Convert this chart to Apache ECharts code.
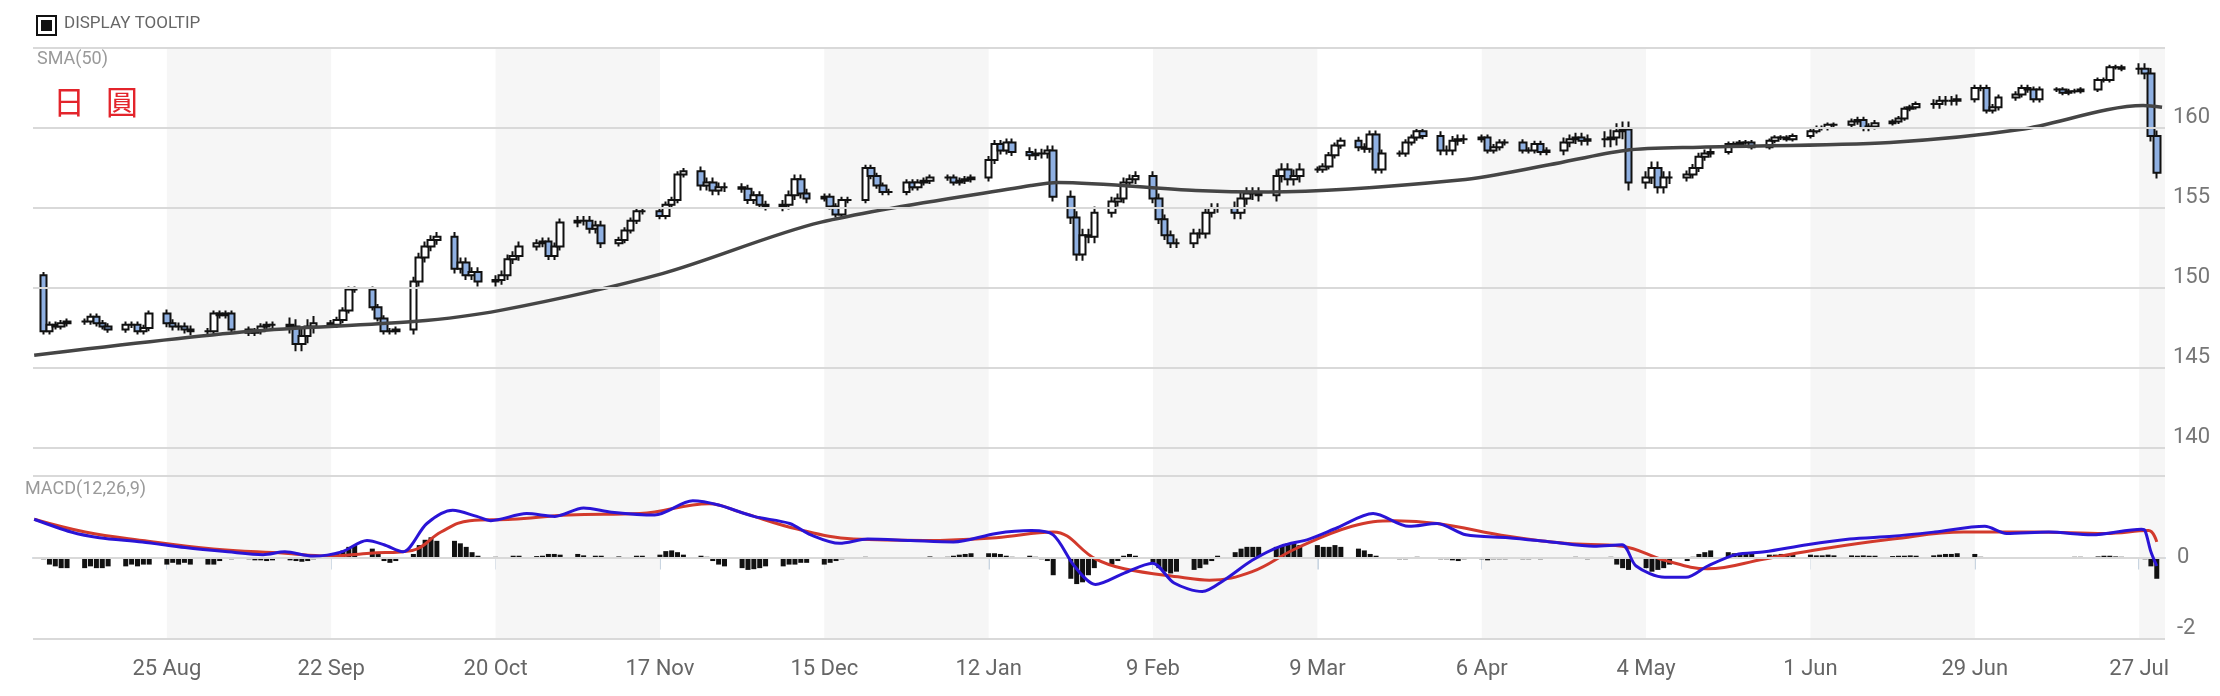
<!DOCTYPE html>
<html>
<head>
<meta charset="utf-8">
<script src="https://cdn.jsdelivr.net/npm/echarts@6/dist/echarts.min.js"></script>
<style>
  html, body {margin: 0; padding: 0; background: #fff;}
  #chart {width: 2220px; height: 696px;}
</style>
</head>
<body>
<div id="chart"></div>
<script>
// x values are calendar days counted from 2 Aug; candles are trading days
var firstOpen = 150.8;
var closes = [
  147.3, 147.7, 147.6, 147.8, 147.9,
  147.9, 148.2, 147.8, 147.6, 147.4,
  147.7, 147.7, 147.3, 147.5, 148.4,
  147.8, 147.6, 147.6, 147.4, 147.3,
  147.3, 148.4, 148.3, 148.4, 147.4,
  147.2, 147.3, 147.6, 147.7, 147.7,
  147.6, 146.5, 147.0, 147.6, 147.8,
  147.7, 148.0, 148.6, 149.9, 149.9,
  148.8, 148.1, 147.3, 147.3, 147.4,
  150.4, 151.9, 152.6, 153.0, 153.2,
  151.2, 151.6, 150.8, 151.0, 150.4,
  150.5, 150.8, 151.8, 152.0, 152.6,
  152.8, 152.9, 152.0, 152.6, 154.1,
  154.2, 154.2, 153.7, 153.9, 152.8,
  153.0, 153.6, 154.2, 154.8, 154.8,
  154.5, 155.2, 155.5, 157.1, 157.3,
  156.4, 156.6, 156.1, 156.3, 156.3,
  156.2, 155.5, 155.8, 155.2, 155.1,
  155.2, 155.8, 156.8, 155.9, 155.6,
  155.7, 155.1, 154.6, 155.5, 155.5,
  157.5, 157.0, 156.4, 156.0, 156.0,
  156.6, 156.3, 156.6, 156.7, 156.9,
  156.9, 156.6, 156.7, 156.8, 156.9,
  158.0, 159.0, 158.6, 159.1, 158.5,
  158.3, 158.4, 158.4, 158.6, 155.7,
  154.4, 152.1, 153.3, 153.2, 154.7,
  155.4, 155.6, 156.6, 156.8, 157.0,
  155.6, 154.3, 153.3, 152.8, 152.8,
  153.4, 153.4, 154.7, 155.0, 155.0,
  154.7, 155.6, 155.9, 155.9, 155.8,
  157.0, 157.4, 156.8, 157.0, 157.4,
  157.4, 157.6, 158.3, 158.9, 159.2,
  158.8, 158.7, 159.6, 157.4, 158.4,
  158.4, 159.1, 159.4, 159.8, 159.5,
  158.6, 158.6, 159.2, 159.3, 159.3,
  159.4, 158.6, 158.8, 159.1, 159.1,
  158.6, 158.6, 159.0, 158.5, 158.6,
  159.1, 159.3, 159.4, 159.2, 159.3,
  159.3, 159.4, 159.8, 159.9, 156.6,
  156.9, 157.5, 156.3, 156.9, 156.9,
  157.1, 157.5, 158.2, 158.4, 158.5,
  159.0, 159.0, 159.1, 159.1, 158.8,
  159.2, 159.4, 159.4, 159.3, 159.5,
  159.8, 160.0, 160.0, 160.2, 160.2,
  160.4, 160.5, 160.0, 160.1, 160.3,
  160.4, 160.6, 161.2, 161.3, 161.5,
  161.5, 161.7, 161.7, 161.7, 161.8,
  162.5, 162.5, 161.1, 161.3, 161.9,
  162.1, 162.5, 162.4, 161.8, 162.4,
  162.4, 162.2, 162.3, 162.3, 162.4,
  163.0, 163.0, 163.8, 163.8, 163.7,
  163.7, 163.4, 159.5, 157.2
];
// typical wick length per week
var weekWick = [0.2, 0.2, 0.2, 0.25, 0.2, 0.2, 0.45, 0.2, 0.2, 0.3,
  0.3, 0.3, 0.25, 0.3, 0.2, 0.2, 0.3, 0.25, 0.3, 0.2,
  0.2, 0.2, 0.2, 0.25, 0.3, 0.4, 0.3, 0.3, 0.3, 0.4,
  0.4, 0.2, 0.25, 0.2, 0.3, 0.2, 0.2, 0.3, 0.5, 0.4,
  0.25, 0.15, 0.15, 0.15, 0.2, 0.15, 0.3, 0.2, 0.2, 0.15,
  0.15, 0.35];

var smaX = [0.4, 37.2, 65, 79.8, 107.4, 134.3, 170.2, 174.8, 198.3, 210.6, 243.3, 258.5, 271.4, 284.2, 316.6, 338.7, 359.7, 362.9];
var smaV = [145.8, 147.3, 147.9, 148.6, 150.9, 154.1, 156.4, 156.6, 156.1, 156.0, 156.75, 157.7, 158.6, 158.8, 159.1, 159.9, 161.4, 161.3];

var macdX = [0.4, 6.7, 11.5, 18.8, 26.1, 33.4, 39.4, 43.1, 47.9, 52.8, 57.1, 60, 63.2, 67.3, 71.7, 75.8, 78.2, 84.3, 89.1, 94, 98.8, 106.1, 112.6, 117, 123, 129.1, 132.7, 137.6, 142.4, 149.7, 157, 164.3, 170.3, 174, 177.6, 181.2, 186.1, 190.9, 194.6, 199.4, 203.1, 207.9, 212.8, 217.6, 222.4, 228.5, 234.6, 239.4, 244.3, 251.5, 258.8, 266.1, 270.9, 273.3, 278.2, 281.8, 285.5, 290.3, 295.2, 302.4, 309.7, 317, 324.2, 332.7, 336.4, 343.6, 350.9, 359.4, 360, 361, 362];
var macdV = [1.08, 0.72, 0.56, 0.44, 0.28, 0.16, 0.08, 0.16, 0.04, 0.16, 0.48, 0.36, 0.16, 0.96, 1.33, 1.16, 1.04, 1.24, 1.16, 1.4, 1.28, 1.2, 1.6, 1.48, 1.16, 0.96, 0.64, 0.4, 0.52, 0.48, 0.44, 0.68, 0.76, 0.64, -0.24, -0.76, -0.44, -0.16, -0.72, -0.96, -0.64, -0.08, 0.32, 0.52, 0.84, 1.24, 0.88, 0.96, 0.64, 0.56, 0.44, 0.32, 0.36, -0.24, -0.56, -0.56, -0.24, 0.08, 0.16, 0.36, 0.52, 0.6, 0.72, 0.88, 0.68, 0.72, 0.64, 0.8, 0.76, 0.16, -0.24];
var sigX = [0.4, 9.1, 18.8, 30.9, 43.1, 50.3, 57.6, 64.8, 69.7, 74.6, 81.8, 91.5, 103.6, 115.4, 120.7, 130.4, 140, 152.1, 164.3, 174, 181.2, 186.1, 195.8, 200.6, 207.9, 215.2, 224.9, 232.2, 239.4, 251.5, 261.2, 270.9, 278.2, 285.5, 295.2, 304.9, 317, 329.1, 341.2, 353.3, 360.6, 362];
var sigV = [1.08, 0.72, 0.48, 0.24, 0.12, 0.04, 0.12, 0.2, 0.72, 1.04, 1.08, 1.2, 1.24, 1.52, 1.28, 0.8, 0.52, 0.48, 0.56, 0.72, -0.04, -0.32, -0.56, -0.64, -0.4, 0.24, 0.88, 1.04, 0.96, 0.6, 0.4, 0.32, -0.08, -0.32, -0.04, 0.24, 0.52, 0.72, 0.72, 0.68, 0.76, 0.44];

var hist = [
  -0.05, -0.2, -0.25, -0.3, -0.3,   -0.3, -0.25, -0.3, -0.3, -0.25,
  -0.25, -0.2, -0.25, -0.2, -0.2,   -0.2, -0.15, -0.2, -0.15, -0.2,
  -0.2, -0.2, -0.1, 0, -0.05,       -0.05, -0.08, -0.08, -0.1, -0.08,
  -0.08, -0.1, -0.12, -0.1, -0.05,  0.05, 0.1, 0.2, 0.3, 0.35,
  0.25, 0.1, -0.1, -0.15, -0.1,     0.1, 0.35, 0.5, 0.57, 0.47,
  0.47, 0.4, 0.3, 0.15, 0.05,       0.02, -0.03, 0, 0.05, 0.05,
  0.04, 0.05, 0.1, 0.1, 0.08,       0.1, 0.06, 0, 0.05, 0.05,
  0.03, 0, 0, 0.05, 0.05,           0.08, 0.18, 0.2, 0.15, 0.08,
  0.05, 0.02, -0.1, -0.2, -0.25,    -0.3, -0.35, -0.33, -0.3, -0.25,
  -0.25, -0.2, -0.2, -0.15, -0.15,  -0.2, -0.15, -0.1, -0.05, 0,
  0.02, 0, -0.02, 0, 0,             0, -0.02, 0, 0, 0.03,
  0.02, 0.05, 0.08, 0.1, 0.12,      0.12, 0.12, 0.1, 0.05, 0.02,
  0.05, 0.02, -0.05, -0.1, -0.5,    -0.6, -0.75, -0.7, -0.5, -0.3,
  -0.2, -0.1, 0.05, 0.1, 0.05,      -0.15, -0.3, -0.4, -0.45, -0.4,
  -0.35, -0.3, -0.2, -0.1, 0.05,    0.15, 0.25, 0.3, 0.3, 0.3,
  0.3, 0.35, 0.4, 0.4, 0.35,        0.35, 0.3, 0.3, 0.35, 0.3,
  0.25, 0.2, 0.1, 0.05, -0.02,      -0.05, -0.05, 0, 0.02, 0,
  -0.05, -0.05, -0.08, -0.1, -0.05, -0.05, -0.08, -0.05, -0.05, -0.05,
  -0.05, -0.05, -0.03, -0.05, -0.03, -0.02, 0, 0.02, 0, -0.05,
  0, 0.02, -0.2, -0.3, -0.35,       -0.3, -0.4, -0.35, -0.3, -0.2,
  -0.1, 0.02, 0.1, 0.15, 0.2,       0.15, 0.12, 0.1, 0.1, 0.1,
  0.08, 0.08, 0.1, 0.1, 0.08,       0.08, 0.06, 0.06, 0.08, 0.06,
  0.06, 0.05, 0.06, 0.05, 0.05,     0.04, 0.05, 0.05, 0.06, 0.05,
  0.06, 0.08, 0.1, 0.1, 0.12,       0.1, 0.02, -0.03, -0.04, -0.02,
  -0.02, -0.02, 0, 0, -0.02,        -0.02, 0, 0, 0.02, 0.02,
  0.03, 0.05, 0.05, 0.03, 0.02,     0, -0.05, -0.25, -0.6
];

var tickDays = [23, 51, 79, 107, 135, 163, 191, 219, 247, 275, 303, 331, 359];
var tickLabels = ['25 Aug', '22 Sep', '20 Oct', '17 Nov', '15 Dec', '12 Jan', '9 Feb', '9 Mar', '6 Apr', '4 May', '1 Jun', '29 Jun', '27 Jul'];
var priceLevels = [140, 145, 150, 155, 160, 165];

// build series data
function dayOf(k) {
  return 2 + 7 * Math.floor(k / 5) + (k % 5);
}
var candles = [], histData = [];
closes.forEach(function (c, k) {
  var o = k === 0 ? firstOpen : closes[k - 1];
  var w = weekWick[Math.floor(k / 5)];
  candles.push([dayOf(k), o, c, Math.min(o, c) - w, Math.max(o, c) + w]);
  histData.push([dayOf(k), hist[k]]);
});
var zip = function (xs, ys) { return xs.map(function (x, i) { return [x, ys[i]]; }); };

var bands = [];
for (var i = 0; i < tickDays.length; i += 2) {
  bands.push([{xAxis: tickDays[i]}, {xAxis: Math.min(tickDays[i] + 28, 363.4)}]);
}
var labelFont = 'Liberation Sans Narrow, Roboto, sans-serif';

var chart = echarts.init(document.getElementById('chart'));
chart.setOption({
  animation: false,
  backgroundColor: '#fff',
  grid: [
    {left: 33, right: 55, top: 48, height: 428},
    {left: 33, right: 55, top: 476, height: 163}
  ],
  xAxis: [
    {type: 'value', gridIndex: 0, min: 0.2, max: 363.4, show: false},
    {
      type: 'value', gridIndex: 1, min: 0.2, max: 363.4, offset: 5,
      axisLine: {lineStyle: {color: '#c9d5e1', width: 2}},
      axisTick: {customValues: tickDays, length: 12, lineStyle: {color: '#c9d5e1', width: 2}},
      axisLabel: {
        customValues: tickDays, color: '#666', fontSize: 22, margin: 14, fontFamily: labelFont,
        formatter: function (v) { return tickLabels[tickDays.indexOf(v)]; }
      },
      splitLine: {show: false}
    }
  ],
  yAxis: [
    {
      type: 'value', gridIndex: 0, position: 'right', min: 138.25, max: 165,
      axisLine: {show: false}, axisTick: {show: false}, splitLine: {show: false},
      axisLabel: {customValues: [140, 145, 150, 155, 160], verticalAlign: 'bottom', margin: 8,
        color: '#777', fontSize: 22, fontFamily: 'Roboto, sans-serif'}
    },
    {
      type: 'value', gridIndex: 1, position: 'right', min: -2.3, max: 2.3,
      axisLine: {show: false}, axisTick: {show: false}, splitLine: {show: false},
      axisLabel: {customValues: [-2, 0], margin: 12, color: '#777', fontSize: 22,
        fontFamily: 'Roboto, sans-serif'}
    }
  ],
  series: [
    {
      type: 'candlestick', xAxisIndex: 0, yAxisIndex: 0, barWidth: 7,
      encode: {x: 0, y: [1, 2, 3, 4]},
      data: candles,
      itemStyle: {color: '#ffffff', color0: '#8fb0e2', borderColor: '#111', borderColor0: '#111', borderWidth: 2},
      markArea: {silent: true, itemStyle: {color: '#f6f6f6'}, data: bands},
      z: 3
    },
    {
      type: 'line', xAxisIndex: 0, yAxisIndex: 0, data: zip(smaX, smaV), smooth: 0.3,
      symbol: 'none', lineStyle: {color: '#454545', width: 3.5}, z: 4,
      markLine: {
        silent: true, symbol: 'none', label: {show: false},
        lineStyle: {color: '#d9d9d9', width: 2, type: 'solid'},
        data: priceLevels.map(function (p) { return {yAxis: p}; })
      }
    },
    {
      type: 'bar', xAxisIndex: 1, yAxisIndex: 1, data: histData, barWidth: 5,
      itemStyle: {color: '#111'},
      markArea: {silent: true, itemStyle: {color: '#f6f6f6'}, data: bands},
      markLine: {
        silent: true, symbol: 'none', label: {show: false},
        lineStyle: {color: '#d9d9d9', width: 2, type: 'solid'},
        data: [{yAxis: 2.3}, {yAxis: 0}, {yAxis: -2.3}]
      }
    },
    {
      type: 'line', xAxisIndex: 1, yAxisIndex: 1, data: zip(sigX, sigV), smooth: 0.4,
      symbol: 'none', lineStyle: {color: '#d23a2c', width: 3}, z: 4
    },
    {
      type: 'line', xAxisIndex: 1, yAxisIndex: 1, data: zip(macdX, macdV), smooth: 0.3,
      symbol: 'none', lineStyle: {color: '#2a14d6', width: 3}, z: 5
    }
  ],
  graphic: [
    {type: 'rect', left: 36, top: 15, shape: {width: 19, height: 19}, style: {fill: '#fff', stroke: '#111', lineWidth: 2}},
    {type: 'rect', left: 41, top: 20, shape: {width: 11, height: 11}, style: {fill: '#111'}},
    {type: 'text', left: 64, top: 15, style: {text: 'DISPLAY TOOLTIP', fill: '#666', font: '17px Roboto, sans-serif'}},
    {type: 'text', left: 37, top: 50, style: {text: 'SMA(50)', fill: '#9a9a9a', font: '18px Roboto, sans-serif'}},
    {type: 'text', left: 53, top: 86, style: {text: '日', fill: '#e3242b', font: '32px "Noto Sans CJK TC", sans-serif'}},
    {type: 'text', left: 106, top: 86, style: {text: '圓', fill: '#e3242b', font: '32px "Noto Sans CJK TC", sans-serif'}},
    {type: 'text', left: 25, top: 480, style: {text: 'MACD(12,26,9)', fill: '#9a9a9a', font: '18px ' + labelFont}}
  ]
});
</script>
</body>
</html>
